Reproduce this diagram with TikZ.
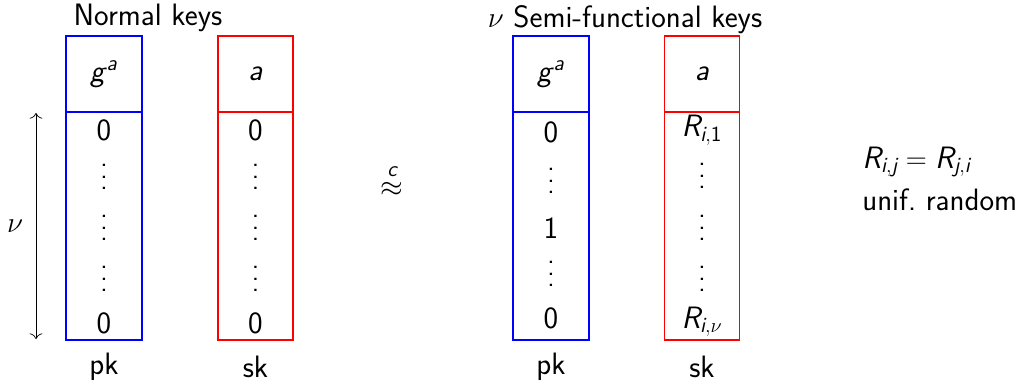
\documentclass[tikz,border=0pt]{standalone}
\usepackage{amsmath}
\renewcommand\familydefault{\sfdefault}
\usetikzlibrary{arrows.meta}
\newcommand\mi[1]{\textsl{#1}}
\newcommand\myvdots{\vbox{\baselineskip8.3pt\lineskiplimit-10pt\hbox{.}\hbox{.}\hbox{.}}}
\begin{document}
\begin{tikzpicture}[x=0.025cm,y=-0.025cm,
  txt/.style={font=\fontsize{22}{26}\selectfont\sffamily,inner sep=0pt},
  pkbox/.style={draw=blue,line width=0.8pt,minimum width=1.9cm,inner sep=0pt},
  skbox/.style={draw=red,line width=0.8pt,minimum width=1.875cm,inner sep=0pt},
  head/.style={minimum height=1.9cm},
  body/.style={minimum height=5.7cm},
  vd/.style={inner sep=0pt,font=\fontsize{20}{8}\selectfont}]
\useasboundingbox (0,0) rectangle (1026,383);
% left panel
\node[txt] (t1) at (148,18) {Normal keys};
\node[pkbox,head] (pkh1) at (104,74) {};
\node[pkbox,body] (pkb1) at (104,226) {};
\node[skbox,head] (skh1) at (255.5,74) {};
\node[skbox,body] (skb1) at (255.5,226) {};
\node[txt] (g1) at (pkh1) {\mi{g}\textsuperscript{\mi{a}}};
\node[txt] (a1) at (skh1) {\mi{a}};
\node[txt] (p10) at (104,130) {0};
\node[vd] (p11) at (104,177) {\myvdots};
\node[vd] (p12) at (104,228) {\myvdots};
\node[vd] (p13) at (104,279) {\myvdots};
\node[txt] (p14) at (104,323) {0};
\node[txt] (s10) at (255.5,130) {0};
\node[vd] (s11) at (255.5,177) {\myvdots};
\node[vd] (s12) at (255.5,228) {\myvdots};
\node[vd] (s13) at (255.5,279) {\myvdots};
\node[txt] (s14) at (255.5,323) {0};
\node[txt] (pk1) at (104,367) {pk};
\node[txt] (sk1) at (255.5,367) {sk};
\coordinate (at) at (36,113);
\coordinate (ab) at (36,339);
\draw[line width=0.5pt,{To[length=4pt,width=9pt]}-{To[length=4pt,width=9pt]}] (at) -- (ab);
\node[txt] (nu) at (15,226) {$\nu$};
% approx
\node[txt] (ap) at (392,180) {$\stackrel{\textsl{c}}{\approx}$};
% right panel
\node[txt] (t2) at (625,20) {$\nu$ Semi-functional keys};
\node[pkbox,head] (pkh2) at (551,74) {};
\node[pkbox,body] (pkb2) at (551,226) {};
\node[skbox,head] (skh2) at (702,74) {};
\node[skbox,body] (skb2) at (702,226) {};
\node[txt] (g2) at (pkh2) {\mi{g}\textsuperscript{\mi{a}}};
\node[txt] (a2) at (skh2) {\mi{a}};
\node[txt] (p20) at (551,132) {0};
\node[vd] (p21) at (551,181) {\myvdots};
\node[txt] (p22) at (551,228) {1};
\node[vd] (p23) at (551,274) {\myvdots};
\node[txt] (p24) at (551,318) {0};
\node[txt] (s20) at (702,130) {$\mi{R}_{\mi{i},\textup{1}}$};
\node[vd] (s21) at (702,176) {\myvdots};
\node[vd] (s22) at (702,228) {\myvdots};
\node[vd] (s23) at (702,279) {\myvdots};
\node[txt] (s24) at (702,322) {$\mi{R}_{\mi{i},\nu}$};
\node[txt] (pk2) at (551,367) {pk};
\node[txt] (sk2) at (702,367) {sk};
% note
\node[txt,anchor=west] (n1) at (862,162) {$\mi{R}_{\mi{i},\mi{j}}=\mi{R}_{\mi{j},\mi{i}}$};
\node[txt,anchor=west] (n2) at (862,200) {unif.\ random};
\end{tikzpicture}
\end{document}
